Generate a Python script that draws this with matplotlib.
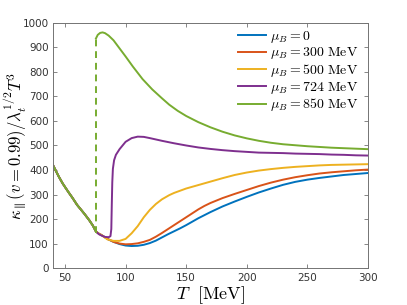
import matplotlib
matplotlib.use("Agg")
import matplotlib.pyplot as plt

plt.rcParams['mathtext.fontset'] = 'cm'
plt.rcParams['font.family'] = ['DejaVu Sans']

# Shared low-temperature branch (all mu_B coincide)
T_common = [40, 42, 45, 48, 50, 53, 56, 60, 63, 66, 70, 73, 75.5]
k_common = [421, 401, 372, 346, 331, 309, 288, 258, 240, 222, 196, 174, 150]

# mu_B = 0
T_mu0 = [78, 80, 85, 90, 95, 100, 105, 110, 115, 120, 125, 130, 135, 140, 145, 150, 155, 160,
         170, 180, 190, 200, 210, 220, 230, 240, 250, 260, 270, 280, 290, 300]
k_mu0 = [141, 136, 120, 108, 99, 93, 91, 92, 96, 103, 113, 126, 139, 151, 163, 176, 190, 204,
         229, 252, 272, 291, 309, 325, 340, 352, 361, 368, 374, 380, 384, 388]

# mu_B = 300 MeV
T_mu300 = [78, 80, 85, 90, 95, 100, 105, 110, 115, 120, 125, 130, 135, 140, 145, 150, 155, 160,
           165, 170, 180, 190, 200, 210, 220, 230, 240, 250, 260, 270, 280, 290, 300]
k_mu300 = [141, 136, 120, 108, 101, 98, 99, 102, 108, 116, 129, 144, 160, 176, 192, 208, 224, 240,
           254, 266, 286, 303, 319, 335, 349, 361, 371, 379, 386, 391, 395, 399, 402]

# mu_B = 500 MeV
T_mu500 = [78, 80, 85, 90, 95, 100, 105, 110, 115, 120, 125, 130, 136, 140, 150, 160,
           170, 180, 190, 200, 210, 220, 230, 240, 250, 260, 270, 280, 290, 300]
k_mu500 = [141, 136, 118, 112, 112, 120, 143, 172, 208, 238, 262, 281, 298, 307, 325, 339,
           353, 367, 380, 390, 398, 404, 409, 413, 416, 419, 421, 422, 423, 424]

# mu_B = 724 MeV
T_mu724 = [78, 80, 83, 86, 87.5, 88.2, 88.6, 89.0, 89.5, 90.5, 92, 95, 100, 105, 110, 115, 120,
           130, 140, 150, 160, 170, 180, 190, 200, 210, 220, 230, 240, 250, 260, 270, 280, 290, 300]
k_mu724 = [139, 134, 128, 127, 131, 160, 260, 350, 405, 440, 462, 485, 515, 530, 536, 535, 530,
           519, 509, 500, 492, 486, 481, 477, 474, 471, 470, 469, 467, 466, 465, 463, 462, 460, 459]

# mu_B = 850 MeV (jump at T_jump, dashed)
T_jump = [75.5, 75.5]
k_jump = [145, 935]
T_mu850 = [75.5, 77, 79, 81, 83, 86, 90, 95, 100, 106, 114, 122, 130, 136, 143, 150, 160,
           170, 180, 190, 200, 210, 220, 230, 240, 250, 260, 270, 280, 290, 300]
k_mu850 = [935, 950, 958, 960, 957, 947, 928, 895, 862, 821, 770, 728, 692, 666, 641, 620, 595,
           574, 556, 541, 529, 519, 511, 505, 501, 497, 494, 491, 489, 487, 485]

labels = [r'$\mu_B = 0$', r'$\mu_B = 300\ \mathrm{MeV}$', r'$\mu_B = 500\ \mathrm{MeV}$',
          r'$\mu_B = 724\ \mathrm{MeV}$', r'$\mu_B = 850\ \mathrm{MeV}$']
colors = ['#0072BD', '#D95319', '#EDB120', '#7E2F8E', '#77AC30']

fig = plt.figure(figsize=(4.07, 3.05), dpi=100)
ax = fig.add_axes([0.130, 0.120, 0.774, 0.806])

series = [(T_mu0, k_mu0), (T_mu300, k_mu300), (T_mu500, k_mu500), (T_mu724, k_mu724)]
for (T, k), c, lab in zip(series, colors[:4], labels[:4]):
    ax.plot(T_common + T, k_common + k, color=c, lw=1.4, label=lab)

ax.plot(T_common, k_common, color=colors[4], lw=1.4)
ax.plot(T_jump, k_jump, color=colors[4], lw=1.4, ls=(0, (3.5, 2.5)))
ax.plot(T_mu850, k_mu850, color=colors[4], lw=1.4, label=labels[4])

ax.set_xlim(40, 300)
ax.set_ylim(0, 1000)
ax.set_xticks([50, 100, 150, 200, 250, 300])
ax.set_yticks(range(0, 1001, 100))
ax.tick_params(direction='in', top=True, right=True, length=3, width=0.6,
               labelsize=7.5, colors='0.45', labelcolor='0.2', pad=3)
for s in ax.spines.values():
    s.set_color('0.45')
    s.set_linewidth(0.7)

ax.set_xlabel(r'$T\ \ \mathrm{[MeV]}$', fontsize=13, labelpad=1)
ax.set_ylabel(r'$\kappa_{\parallel}(v=0.99)/\lambda_t^{1/2}T^3$', fontsize=12)
ax.yaxis.set_label_coords(-0.076, 0.5)

leg = ax.legend(loc='upper left', frameon=False, fontsize=10, handlelength=2.0,
                handletextpad=0.3, labelspacing=0.05, borderpad=0, borderaxespad=0,
                bbox_to_anchor=(0.587, 0.975))

fig.savefig('out.png', dpi=100)
